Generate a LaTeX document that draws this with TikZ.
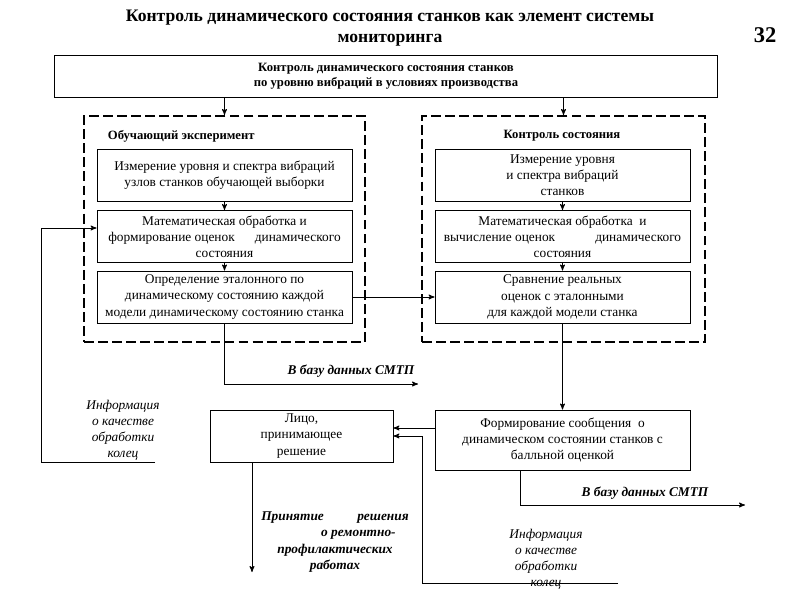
\documentclass[tikz,border=0pt]{standalone}
\usepackage{fontspec}
\setmainfont{Liberation Serif}
\usepackage{tikz}
\usetikzlibrary{arrows}
\usetikzlibrary{calc,positioning}
\tikzset{
 blk/.style={draw, line width=0.6pt, align=center, inner sep=2pt, font=\fontsize{9.5}{11.5}\selectfont},
 sub/.style={blk, minimum width=6.375cm, minimum height=1.3cm},
 grp/.style={draw, line width=1.4pt, dash pattern=on 7pt off 3pt, minimum height=5.65cm},
 lbl/.style={font=\fontsize{9}{11}\selectfont\bfseries},
 dbl/.style={font=\fontsize{9.5}{11.5}\selectfont\bfseries\itshape},
 inf/.style={align=center, font=\fontsize{9.5}{11.5}\selectfont\itshape},
 con/.style={line width=0.6pt, ->, >=stealth'},
}

\begin{document}
\begin{tikzpicture}[x=0.025cm, y=-0.025cm]
\useasboundingbox (0,0) rectangle (800,600);
\node[font=\fontsize{12.5}{15}\selectfont\bfseries, align=center] (title) at (390,28) {Контроль динамического состояния станков как элемент системы\\мониторинга};
\node[font=\fontsize{16}{18}\selectfont\bfseries] (page) at (765,35) {32};
\node[blk, lbl, minimum width=16.55cm, minimum height=1.05cm] (top) at (386,76) {Контроль динамического состояния станков\\по уровню вибраций в условиях производства};

\node[grp, minimum width=7.025cm] (gexp) at (224.5,229) {};
\node[grp, minimum width=7.075cm] (gctl) at (563.5,229) {};
\node[lbl, anchor=west] (gexpt) at (103,136) {Обучающий эксперимент};
\node[lbl] (gctlt) at (562,136) {Контроль состояния};

\node[sub] (ml1) at (224.5,175.5) {Измерение уровня и спектра вибраций\\узлов станков обучающей выборки};
\node[sub] (ml2) at (224.5,236.5) {Математическая обработка и\\формирование оценок\hspace{1.5em}динамического\\состояния};
\node[sub] (ml3) at (224.5,297) {Определение эталонного по\\динамическому состоянию каждой\\модели динамическому состоянию станка};
\node[sub] (mr1) at (562.5,175.5) {Измерение уровня\\и спектра вибраций\\станков};
\node[sub] (mr2) at (562.5,236.5) {Математическая обработка\ \ и\\вычисление оценок\hspace{3em}динамического\\состояния};
\node[sub] (mr3) at (562.5,297) {Сравнение реальных\\оценок с эталонными\\для каждой модели станка};

\node[blk, minimum width=6.375cm, minimum height=1.5cm] (msg) at (562.5,440) {Формирование сообщения\ \ о\\динамическом состоянии станков с\\балльной оценкой};
\node[blk, minimum width=4.575cm, minimum height=1.3cm] (face) at (301.5,436) {Лицо,\\принимающее\\решение};

\draw[con] (gexp.north |- top.south) -- (gexp.north);
\draw[con] (gctl.north |- top.south) -- (gctl.north);
\foreach \a/\b in {ml1/ml2, ml2/ml3, mr1/mr2, mr2/mr3}
 \draw[con] (\a.south) -- (\b.north);
\draw[con] (ml3.east) -- (mr3.west);
\draw[con] (mr3.south) -- (msg.north);

\coordinate (db1) at (418,384);
\draw[con] (ml3.south) |- (db1);
\node[dbl] (db1t) at (351,371) {В базу данных СМТП};
\coordinate (db2s) at (520,0);
\coordinate (db2) at (745,505);
\draw[con] (msg.south -| db2s) |- (db2);
\node[dbl] (db2t) at (645,493) {В базу данных СМТП};

\coordinate (q1) at (0,428);
\coordinate (q2) at (422,436);
\coordinate (fb2) at (618,583);
\draw[con] (msg.west |- q1) -- (face.east |- q1);
\draw[con] (fb2) -| (q2) -- (face.east |- q2);
\node[inf] (inf2) at (546,559) {Информация\\о качестве\\обработки\\колец};

\coordinate (fb1) at (155,462);
\coordinate (q3) at (41,228);
\draw[con] (fb1) -| (q3) -- (ml2.west |- q3);
\node[inf] (inf1) at (123,430) {Информация\\о качестве\\обработки\\колец};

\coordinate (dec) at (252,572);
\draw[con] (face.south -| dec) -- (dec);
\node[dbl, align=center] (dect) at (335,542) {Принятие\hspace{2.5em}решения\\\hspace*{3.5em}о ремонтно-\\профилактических\\работах};
\end{tikzpicture}
\end{document}
